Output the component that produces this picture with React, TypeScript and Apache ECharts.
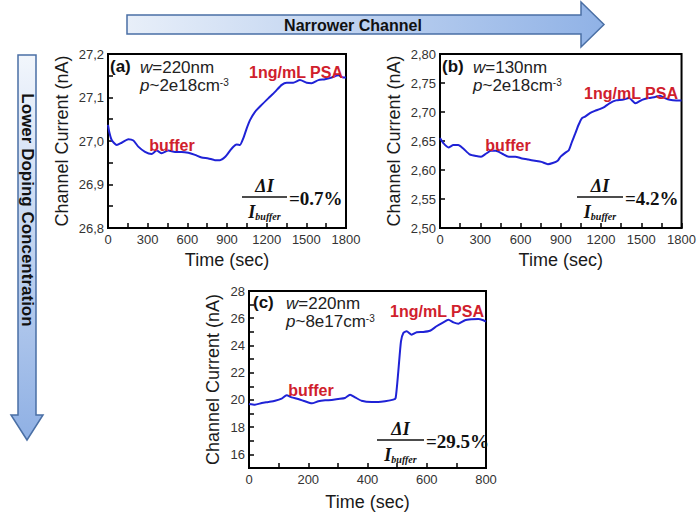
import React, { useEffect, useRef } from 'react';
import * as echarts from 'echarts';

// Panel (a): w=220nm, p~2e18
const aTime = [0, 10, 28, 66, 103, 154, 192, 229, 280, 330, 368, 406, 456, 507, 557, 607, 658, 708, 759, 809, 847, 885, 923, 948, 973, 998, 1023, 1049, 1074, 1112, 1162, 1212, 1263, 1314, 1351, 1401, 1452, 1503, 1540, 1591, 1641, 1692, 1742, 1780, 1800];
const aCurrent = [27.037, 27.02, 27.002, 26.991, 26.996, 27.004, 27.001, 26.987, 26.975, 26.970, 26.978, 26.972, 26.978, 26.975, 26.975, 26.973, 26.968, 26.962, 26.960, 26.956, 26.956, 26.963, 26.978, 26.987, 26.992, 26.991, 27.006, 27.029, 27.048, 27.067, 27.083, 27.098, 27.113, 27.129, 27.134, 27.134, 27.140, 27.134, 27.133, 27.140, 27.142, 27.146, 27.151, 27.146, 27.146];

// Panel (b): w=130nm, p~2e18
const bTime = [0, 27, 63, 100, 136, 173, 221, 270, 306, 342, 379, 415, 464, 512, 561, 610, 658, 707, 756, 804, 840, 877, 899, 935, 960, 984, 1008, 1033, 1057, 1081, 1117, 1154, 1190, 1227, 1263, 1312, 1360, 1409, 1457, 1506, 1554, 1603, 1640, 1676, 1713, 1761, 1800];
const bCurrent = [2.655, 2.646, 2.639, 2.643, 2.643, 2.637, 2.627, 2.624, 2.623, 2.628, 2.633, 2.633, 2.628, 2.623, 2.623, 2.620, 2.618, 2.616, 2.614, 2.610, 2.612, 2.616, 2.623, 2.630, 2.634, 2.649, 2.663, 2.678, 2.689, 2.692, 2.698, 2.702, 2.705, 2.709, 2.715, 2.720, 2.721, 2.724, 2.715, 2.721, 2.724, 2.726, 2.728, 2.724, 2.721, 2.720, 2.720];

// Panel (c): w=220nm, p~8e17
const cTime = [0, 20, 43, 65, 88, 110, 127, 144, 166, 189, 212, 234, 257, 279, 301, 324, 341, 358, 380, 414, 436, 459, 487, 495, 504, 513, 521, 532, 549, 566, 588, 611, 633, 656, 673, 690, 707, 729, 752, 774, 791, 800];
const cCurrent = [19.70, 19.65, 19.77, 19.85, 19.94, 20.09, 20.34, 20.19, 20.07, 19.90, 19.75, 19.90, 19.97, 20.00, 20.07, 20.14, 20.38, 20.19, 19.94, 19.85, 19.85, 19.90, 20.02, 20.14, 22.10, 24.30, 24.92, 25.04, 24.79, 24.97, 24.99, 25.08, 25.41, 25.70, 25.88, 25.70, 25.60, 25.85, 25.92, 25.95, 25.85, 25.75];

const panelLetters = ['(a)', '(b)', '(c)'];
const widths = ['220nm', '130nm', '220nm'];
const dopings = ['2e18', '2e18', '8e17'];
const ratios = ['0.7%', '4.2%', '29.5%'];

const SANS = "'Liberation Sans', Arial, sans-serif";
const SERIF = "'Liberation Serif', 'Times New Roman', serif";
const RED = '#d0202c';
const BLUE = '#1f22d6';

function zip(t: number[], v: number[]) {
  return t.map((x, i) => [x, v[i]]);
}

function xAxis(gridIndex: number, max: number, interval: number, nameGap: number) {
  return {
    type: 'value', gridIndex, min: 0, max, interval,
    name: 'Time (sec)', nameLocation: 'middle', nameGap,
    nameTextStyle: { fontFamily: SANS, fontSize: 18, color: '#1a1a1a' },
    axisLine: { show: true, lineStyle: { color: '#000', width: 2 } },
    axisTick: { show: true, inside: true, length: 5, lineStyle: { color: '#000', width: 1.5 } },
    minorTick: { show: true, splitNumber: 2, length: 5, lineStyle: { color: '#000', width: 1.5 } },
    axisLabel: { fontFamily: SANS, fontSize: 13, color: '#333', margin: 5, formatter: (v: number) => String(v) },
    splitLine: { show: false }, minorSplitLine: { show: false },
  };
}

function yAxis(gridIndex: number, min: number, max: number, interval: number, nameGap: number, fmt: (v: number) => string, minor: boolean) {
  return {
    type: 'value', gridIndex, min, max, interval,
    name: 'Channel Current (nA)', nameLocation: 'middle', nameGap, nameRotate: 90,
    nameTextStyle: { fontFamily: SANS, fontSize: 18, color: '#1a1a1a' },
    axisLine: { show: true, lineStyle: { color: '#000', width: 2 } },
    axisTick: { show: true, inside: true, length: 5, lineStyle: { color: '#000', width: 1.5 } },
    minorTick: { show: minor, splitNumber: 2, length: 5, lineStyle: { color: '#000', width: 1.5 } },
    axisLabel: { fontFamily: SANS, fontSize: 13, color: '#333', margin: 4, formatter: fmt },
    splitLine: { show: false }, minorSplitLine: { show: false },
  };
}

function txt(x: number, y: number, text: string, style: any) {
  return { type: 'text', x, y, z: 10, style: { text, textVerticalAlign: 'middle', verticalAlign: 'middle', ...style } };
}

function header(x0: number, xw: number, y: number, i: number) {
  const rich = {
    i: { fontStyle: 'italic', fontSize: 17, lineHeight: 16, fontFamily: SANS, fill: '#222', color: '#222' },
    n: { fontSize: 17, lineHeight: 16, fontFamily: SANS, fill: '#222', color: '#222' },
    sup: { fontSize: 10, lineHeight: 16, fontFamily: SANS, fill: '#222', color: '#222', verticalAlign: 'top' },
  };
  return [
    txt(x0, y, panelLetters[i], { fontFamily: SANS, fontSize: 17, fontWeight: 'bold', fill: '#111', textAlign: 'left' }),
    txt(xw, y + 1, `{i|w}{n|=${widths[i]}}`, { rich, textAlign: 'left' }),
    txt(xw, y + 19, `{i|p}{n|~${dopings[i]}cm}{sup|-3}`, { rich, textAlign: 'left' }),
  ];
}

function formula(xl: number, xr: number, y: number, i: number) {
  const cx = (xl + xr) / 2;
  return [
    txt(cx, y - 11, 'ΔI', { fontFamily: SERIF, fontSize: 18, fontWeight: 'bold', fontStyle: 'italic', fill: '#111', textAlign: 'center' }),
    { type: 'line', z: 10, shape: { x1: xl, y1: y, x2: xr, y2: y }, style: { stroke: '#111', lineWidth: 1.5 } },
    txt(cx, y + 15, '{I|I}{s|buffer}', {
      textAlign: 'center',
      rich: {
        I: { fontFamily: SERIF, fontSize: 18, lineHeight: 18, fontWeight: 'bold', fontStyle: 'italic', fill: '#111', color: '#111' },
        s: { fontFamily: SERIF, fontSize: 10, lineHeight: 18, fontWeight: 'bold', fontStyle: 'italic', fill: '#111', color: '#111', verticalAlign: 'bottom' },
      },
    }),
    txt(xr + 2, y + 1, '=' + ratios[i], { fontFamily: SERIF, fontSize: 19, fontWeight: 'bold', fill: '#111', textAlign: 'left' }),
  ];
}

function redLabel(x: number, y: number, text: string) {
  return txt(x, y, text, { fontFamily: SANS, fontSize: 16, fontWeight: 'bold', fill: RED, textAlign: 'center' });
}

export default function App() {
  const ref = useRef<HTMLDivElement>(null);
  useEffect(() => {
    const chart = echarts.init(ref.current!, null, { renderer: 'svg' });
    const grids = [
      { left: 108, top: 54, width: 238, height: 174 },
      { left: 440, top: 54, width: 247, height: 174 },
      { left: 249, top: 291, width: 237, height: 177 },
    ].map(g => ({ ...g, show: true, borderColor: '#000', borderWidth: 2, backgroundColor: 'transparent' }));

    const hArrow = {
      type: 'polygon', z: 1,
      shape: { points: [[127, 15], [581, 15], [581, 2], [604, 24.5], [581, 47], [581, 34], [127, 34]] },
      style: {
        fill: { type: 'linear', x: 0, y: 0, x2: 1, y2: 0, colorStops: [{ offset: 0, color: '#e8eff9' }, { offset: 1, color: '#90b2e6' }] },
        stroke: '#4a6fa5', lineWidth: 1.5,
      },
    };
    const vArrow = {
      type: 'polygon', z: 1,
      shape: { points: [[18, 55], [36, 55], [36, 415], [43, 415], [27, 440], [11, 415], [18, 415]] },
      style: {
        fill: { type: 'linear', x: 0, y: 0, x2: 0, y2: 1, colorStops: [{ offset: 0, color: '#f2f6fc' }, { offset: 1, color: '#8fb0e4' }] },
        stroke: '#4a6fa5', lineWidth: 1.5,
      },
    };

    const option: any = {
      animation: false,
      backgroundColor: '#fff',
      grid: grids,
      xAxis: [xAxis(0, 1800, 300, 23), xAxis(1, 1800, 300, 23), xAxis(2, 800, 200, 25)],
      yAxis: [
        yAxis(0, 26.8, 27.2, 0.1, 37, (v: number) => v.toFixed(1).replace('.', ','), true),
        yAxis(1, 2.5, 2.8, 0.05, 37, (v: number) => v.toFixed(2).replace('.', ','), false),
        yAxis(2, 15, 28, 1, 27, (v: number) => (Math.round(v) % 2 === 0 ? String(Math.round(v)) : ''), false),
      ],
      series: [
        { type: 'line', xAxisIndex: 0, yAxisIndex: 0, data: zip(aTime, aCurrent) },
        { type: 'line', xAxisIndex: 1, yAxisIndex: 1, data: zip(bTime, bCurrent) },
        { type: 'line', xAxisIndex: 2, yAxisIndex: 2, data: zip(cTime, cCurrent) },
      ].map(s => ({ ...s, showSymbol: false, smooth: 0.2, lineStyle: { color: BLUE, width: 2 }, silent: true })),
      graphic: [
        hArrow,
        vArrow,
        txt(353, 25, 'Narrower Channel', { fontFamily: SANS, fontSize: 16, fontWeight: 'bold', fill: '#111', textAlign: 'center' }),
        { type: 'text', x: 27, y: 210, rotation: -Math.PI / 2, z: 10,
          style: { text: 'Lower Doping Concentration', fontFamily: SANS, fontSize: 17, fontWeight: 'bold', fill: '#111', textAlign: 'center', textVerticalAlign: 'middle', verticalAlign: 'middle' } },
        ...header(110, 140, 66, 0),
        ...header(442, 473, 66, 1),
        ...header(253, 286, 302, 2),
        redLabel(296, 72, '1ng/mL PSA'),
        redLabel(631, 93, '1ng/mL PSA'),
        redLabel(437, 311, '1ng/mL PSA'),
        redLabel(172, 145, 'buffer'),
        redLabel(508, 145, 'buffer'),
        redLabel(311, 390, 'buffer'),
        ...formula(242, 287, 197, 0),
        ...formula(577, 623, 197, 1),
        ...formula(377, 424, 440, 2),
      ],
    };
    chart.setOption(option);
    return () => chart.dispose();
  }, []);
  return <div ref={ref} style={{ position: 'fixed', left: 0, top: 0, width: 699, height: 520, background: '#fff' }} />;
}
